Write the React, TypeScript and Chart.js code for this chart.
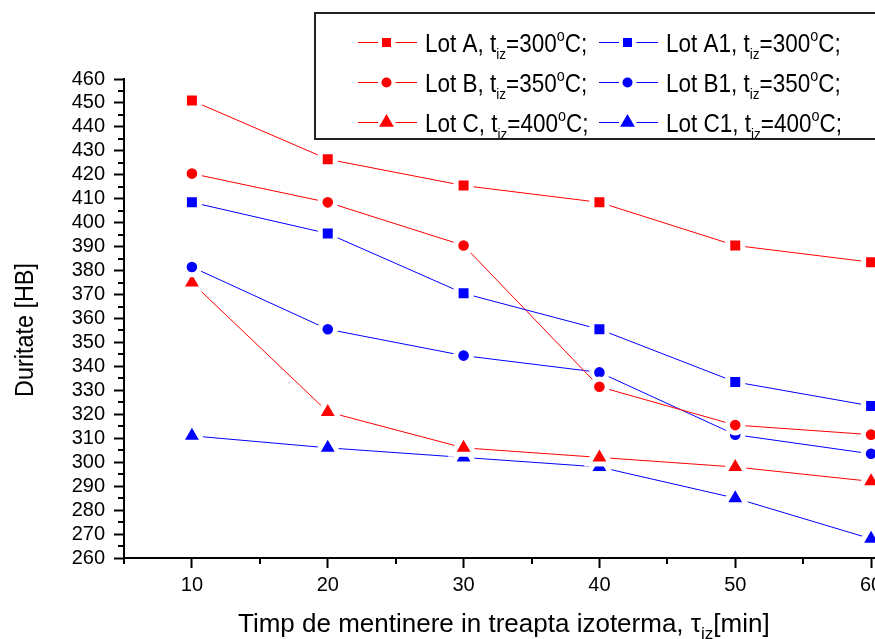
import React, { useEffect, useRef } from 'react';
import { Chart, registerables } from 'chart.js';

Chart.register(...registerables);

// ---- data ----
const times = [10, 20, 30, 40, 50, 60];
const lotA = [451, 426.5, 415.5, 408.5, 390.5, 383.5];
const lotB = [420.5, 408.5, 390.5, 331.5, 315.5, 311.5];
const lotC = [375, 321, 306, 302, 298, 292];
const lotA1 = [408.5, 395.5, 370.5, 355.5, 333.5, 323.5];
const lotB1 = [381.5, 355.5, 344.5, 337.5, 311.5, 303.5];
const lotC1 = [311, 306, 302, 298, 285, 268];

const xTickLabels = [10, 20, 30, 40, 50, 60];
const yTickLabels = [260, 270, 280, 290, 300, 310, 320, 330, 340, 350, 360, 370, 380, 390, 400, 410, 420, 430, 440, 450, 460];
const xMin = 5;
const xMax = 65;
const yMin = 260;
const yMax = 460;
const minorStep = 5;

const FONT = "'Liberation Sans', Arial, Helvetica, sans-serif";
const RED = '#ff0000';
const BLUE = '#0000ff';

type Style = 'rect' | 'circle' | 'triangle';
interface SeriesDef {
  name: string;
  temp: string;
  values: number[];
  color: string;
  style: Style;
}

// legend order (row-major, two columns)
const series: SeriesDef[] = [
  { name: 'Lot A', temp: '300', values: lotA, color: RED, style: 'rect' },
  { name: 'Lot A1', temp: '300', values: lotA1, color: BLUE, style: 'rect' },
  { name: 'Lot B', temp: '350', values: lotB, color: RED, style: 'circle' },
  { name: 'Lot B1', temp: '350', values: lotB1, color: BLUE, style: 'circle' },
  { name: 'Lot C', temp: '400', values: lotC, color: RED, style: 'triangle' },
  { name: 'Lot C1', temp: '400', values: lotC1, color: BLUE, style: 'triangle' },
];

const plotRadius: Record<Style, number> = { rect: 10.6, circle: 7.8, triangle: 13 };

interface Part {
  text: string;
  size: number;
  dy: number;
}

function drawRich(ctx: CanvasRenderingContext2D, x: number, y: number, parts: Part[], sx = 1) {
  ctx.save();
  ctx.translate(x, y);
  ctx.scale(sx, 1);
  ctx.textAlign = 'left';
  ctx.textBaseline = 'alphabetic';
  let cx = 0;
  for (const p of parts) {
    ctx.font = `${p.size}px ${FONT}`;
    ctx.fillText(p.text, cx, p.dy);
    cx += ctx.measureText(p.text).width;
  }
  ctx.restore();
}

function drawMarker(ctx: CanvasRenderingContext2D, style: Style, x: number, y: number, color: string) {
  ctx.fillStyle = color;
  ctx.beginPath();
  if (style === 'rect') {
    ctx.rect(x - 4.5, y - 4.5, 9, 9);
  } else if (style === 'circle') {
    ctx.arc(x, y, 5, 0, Math.PI * 2);
  } else {
    const r = 8.5;
    ctx.moveTo(x, y - r);
    ctx.lineTo(x + r * Math.sin((2 * Math.PI) / 3), y + r / 2);
    ctx.lineTo(x - r * Math.sin((2 * Math.PI) / 3), y + r / 2);
    ctx.closePath();
  }
  ctx.fill();
}

const decorPlugin = {
  id: 'decor',
  afterDraw(chart: any) {
    const ctx: CanvasRenderingContext2D = chart.ctx;
    const xs = chart.scales.x;
    const ys = chart.scales.y;
    const ca = chart.chartArea;
    ctx.save();

    // minor ticks
    ctx.strokeStyle = '#000';
    ctx.lineWidth = 2;
    for (let v = xMin; v <= xMax; v += minorStep) {
      if (v % 10 === 0) continue;
      const p = Math.round(xs.getPixelForValue(v));
      ctx.beginPath();
      ctx.moveTo(p, ca.bottom);
      ctx.lineTo(p, ca.bottom + 6);
      ctx.stroke();
    }
    for (let v = yMin; v <= yMax; v += minorStep) {
      if (v % 10 === 0) continue;
      const p = Math.round(ys.getPixelForValue(v));
      ctx.beginPath();
      ctx.moveTo(ca.left - 6, p);
      ctx.lineTo(ca.left, p);
      ctx.stroke();
    }

    // axis titles
    ctx.fillStyle = '#000';
    drawRich(ctx, 238, 632, [
      { text: 'Timp de mentinere in treapta izoterma, \u03c4', size: 26, dy: 0 },
      { text: 'iz', size: 17, dy: 7 },
      { text: '[min]', size: 26, dy: 0 },
    ]);
    ctx.save();
    ctx.translate(33, 330);
    ctx.rotate(-Math.PI / 2);
    ctx.scale(0.9, 1);
    ctx.font = `26px ${FONT}`;
    ctx.textAlign = 'center';
    ctx.textBaseline = 'alphabetic';
    ctx.fillText('Duritate [HB]', 0, 0);
    ctx.restore();

    // legend box
    const boxL = 315;
    const boxT = 13;
    const boxR = 905;
    const boxB = 139;
    ctx.fillStyle = '#fff';
    ctx.fillRect(boxL, boxT, boxR - boxL, boxB - boxT);
    ctx.strokeStyle = '#222';
    ctx.lineWidth = 2;
    ctx.strokeRect(boxL, boxT, boxR - boxL, boxB - boxT);

    const rowY = [42.5, 82.5, 122.5];
    const colX = [358, 599];
    series.forEach((s, i) => {
      const row = Math.floor(i / 2);
      const col = i % 2;
      const y = rowY[row];
      const x0 = colX[col];
      const x1 = x0 + 59;
      const mx = x0 + 28.5;
      ctx.strokeStyle = s.color;
      ctx.lineWidth = 1;
      ctx.beginPath();
      ctx.moveTo(x0, y);
      ctx.lineTo(mx - 8.5, y);
      ctx.moveTo(mx + 9, y);
      ctx.lineTo(x1, y);
      ctx.stroke();
      drawMarker(ctx, s.style, mx, y, s.color);
      ctx.fillStyle = '#000';
      drawRich(
        ctx,
        x1 + 8,
        y + 9.5,
        [
          { text: `${s.name}, t`, size: 25, dy: 0 },
          { text: 'iz', size: 15, dy: 7 },
          { text: `=${s.temp}`, size: 25, dy: 0 },
          { text: 'o', size: 16, dy: -11 },
          { text: 'C;', size: 25, dy: 0 },
        ],
        0.9
      );
    });

    ctx.restore();
  },
};

export default function App() {
  const ref = useRef<HTMLCanvasElement>(null);

  useEffect(() => {
    const canvas = ref.current;
    if (!canvas) return;
    const chart = new Chart(canvas, {
      type: 'line',
      data: {
        datasets: series.map((s) => ({
          label: s.name,
          data: times.map((t, i) => ({ x: t, y: s.values[i] })),
          borderColor: s.color,
          backgroundColor: s.color,
          borderWidth: 1,
          pointStyle: s.style,
          pointRadius: plotRadius[s.style],
          pointHoverRadius: plotRadius[s.style],
          pointBackgroundColor: s.color,
          pointBorderColor: '#ffffff',
          pointBorderWidth: 5,
          tension: 0,
          fill: false,
        })),
      },
      options: {
        responsive: false,
        animation: false,
        devicePixelRatio: 1,
        events: [],
        layout: { autoPadding: false, padding: { top: 79, left: 0, right: 0, bottom: 0 } },
        plugins: {
          legend: { display: false },
          tooltip: { enabled: false },
          title: { display: false },
        },
        scales: {
          x: {
            type: 'linear',
            min: xMin,
            max: xMax,
            afterBuildTicks: (s: any) => {
              s.ticks = xTickLabels.map((v) => ({ value: v }));
            },
            afterFit: (s: any) => {
              s.height = 81;
              s.paddingLeft = 0;
              s.paddingRight = 0;
              s.paddingTop = 0;
              s.paddingBottom = 0;
            },
            grid: {
              display: true,
              drawOnChartArea: false,
              drawTicks: true,
              tickLength: 10,
              tickWidth: 2,
              tickColor: '#000',
              color: '#000',
            },
            border: { display: true, color: '#000', width: 2 },
            ticks: {
              font: { family: FONT, size: 20 },
              color: '#000',
              padding: 5,
              autoSkip: false,
              maxRotation: 0,
            },
          },
          y: {
            type: 'linear',
            min: yMin,
            max: yMax,
            afterBuildTicks: (s: any) => {
              s.ticks = yTickLabels.map((v) => ({ value: v }));
            },
            afterFit: (s: any) => {
              s.width = 124;
              s.paddingLeft = 0;
              s.paddingRight = 0;
              s.paddingTop = 0;
              s.paddingBottom = 0;
            },
            grid: {
              display: true,
              drawOnChartArea: false,
              drawTicks: true,
              tickLength: 10,
              tickWidth: 2,
              tickColor: '#000',
              color: '#000',
            },
            border: { display: true, color: '#000', width: 2 },
            ticks: {
              font: { family: FONT, size: 20 },
              color: '#000',
              padding: 9,
              autoSkip: false,
            },
          },
        },
      } as any,
      plugins: [decorPlugin],
    });
    return () => chart.destroy();
  }, []);

  return (
    <div
      style={{
        position: 'fixed',
        left: 0,
        top: 0,
        width: 875,
        height: 639,
        overflow: 'hidden',
        background: '#fff',
      }}
    >
      <canvas ref={ref} width={939} height={639} style={{ display: 'block', width: 939, height: 639 }} />
    </div>
  );
}
